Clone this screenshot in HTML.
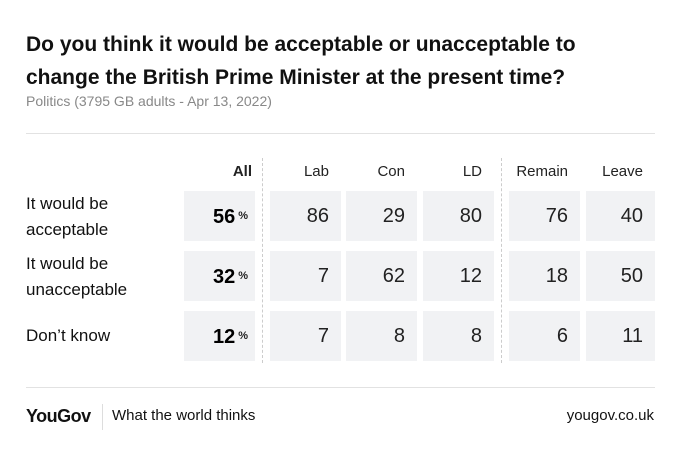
<!DOCTYPE html>
<html><head><meta charset="utf-8"><style>
body{margin:0;width:680px;height:455px;background:#fff;font-family:"Liberation Sans",Arial,sans-serif;position:relative;overflow:hidden;color:#111}
.a{position:absolute}
.cell{position:absolute;background:#f1f2f4;height:50px;box-sizing:border-box;text-align:right;line-height:50px;font-size:20px;color:#222;padding-right:12px}
.hdr{position:absolute;font-size:15px;text-align:right;color:#222}
.rl{position:absolute;left:26px;font-size:17px;line-height:26px;color:#111}
</style></head><body>
<div class="a" style="left:26px;top:28px;font-size:21px;font-weight:bold;line-height:33px;width:600px">Do you think it would be acceptable or unacceptable to change the British Prime Minister at the present time?</div>
<div class="a" style="left:26px;top:93px;font-size:14px;color:#888">Politics (3795 GB adults - Apr 13, 2022)</div>
<div class="a" style="left:26px;top:133px;width:629px;height:1px;background:#e2e2e2"></div>
<div class="a" style="left:262px;top:158px;height:205px;border-left:1px dashed #ccc"></div>
<div class="a" style="left:501px;top:158px;height:205px;border-left:1px dashed #ccc"></div>
<div id="tbl"></div>
<div class="a" style="left:26px;top:387px;width:629px;height:1px;background:#e2e2e2"></div>
<div class="a" style="left:26px;top:406px;font-size:18px;font-weight:bold;letter-spacing:-0.5px">YouGov</div>
<div class="a" style="left:102px;top:404px;width:1px;height:26px;background:#ddd"></div>
<div class="a" style="left:112px;top:407px;font-size:15px">What the world thinks</div>
<div class="a" style="right:26px;top:407px;font-size:15px">yougov.co.uk</div>
<script>
const groups=["All","Lab","Con","LD","Remain","Leave"];
const rows=["It would be<br>acceptable","It would be<br>unacceptable","Don’t know"];
const allVals=[56,32,12];
const lab=[86,7,7];
const con=[29,62,8];
const ld=[80,12,8];
const remain=[76,18,6];
const leave=[40,50,11];
const series=[allVals,lab,con,ld,remain,leave];
const colX=[184,270,346,423,509,586],colW=[71,71,71,71,71,69];
const rowY=[191,251,311];
const t=document.getElementById('tbl');
groups.forEach((g,i)=>{
 const h=document.createElement('div');h.className='hdr';
 
 
 h.style.left=colX[i]+'px';h.style.width=(colW[i]-(i==0?3:12))+'px';h.style.top='163px';
 if(i==0){h.style.fontWeight='bold';}
 h.textContent=g;t.appendChild(h);
});
rows.forEach((r,j)=>{
 const l=document.createElement('div');l.className='rl';
 
 
 l.innerHTML=r;
 l.style.top=(r.includes('<br>')?rowY[j]:rowY[j]+12)+'px';
 t.appendChild(l);
 series.forEach((s,i)=>{
  const c=document.createElement('div');c.className='cell';
  
  
  c.style.left=colX[i]+'px';c.style.top=rowY[j]+'px';c.style.width=colW[i]+'px';
  if(i==0){c.style.paddingRight='7px';c.innerHTML='<b style="font-size:20px;color:#000">'+s[j]+'</b><span style="font-size:11px;font-weight:bold;margin-left:3px;vertical-align:4px">%</span>';}
  else c.textContent=s[j];
  t.appendChild(c);
 });
});
</script>
</body></html>
